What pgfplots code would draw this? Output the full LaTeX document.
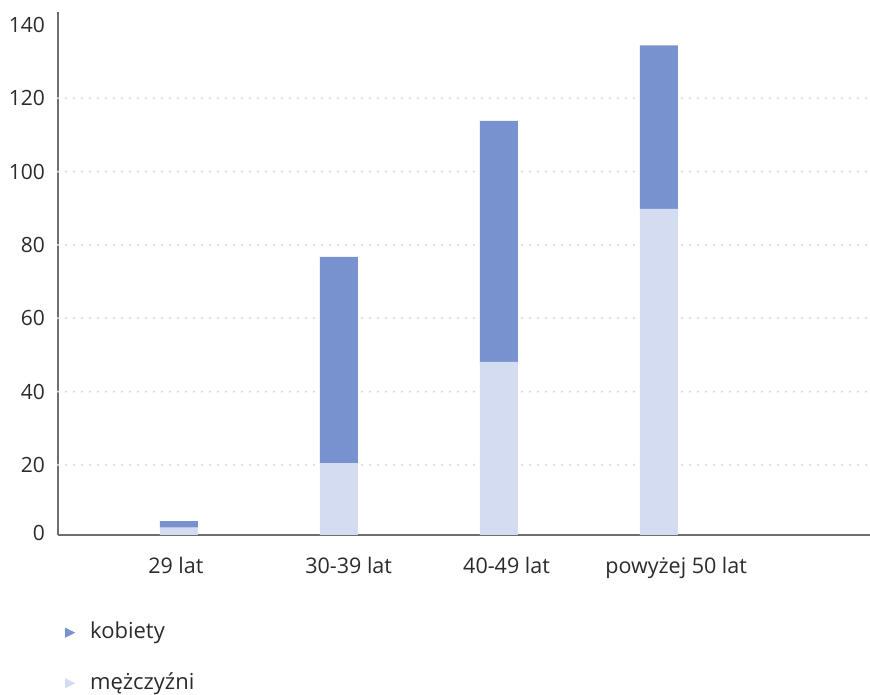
\documentclass[border=0pt]{standalone}
\usepackage{fontspec}
\setmainfont{Open Sans}
\usepackage{pgfplots}
\pgfplotsset{compat=1.18}
\definecolor{dark}{HTML}{7891CF}
\definecolor{light}{HTML}{D4DCF2}
\definecolor{txt}{HTML}{2B2B2B}
\definecolor{axl}{HTML}{6E6E6E}
\definecolor{grd}{HTML}{DCDCDC}
\begin{document}
\fontsize{21pt}{25pt}\selectfont
\begin{tikzpicture}
\begin{axis}[
 scale only axis, width=812pt, height=523pt,
 xmin=-0.756, xmax=4.32, ymin=0.9, ymax=143.5,
 ybar stacked, bar width=38pt,
 axis x line=bottom, axis y line=left,
 axis line style={-, axl, line width=2.2pt},
 xtick={-0.019,1.061,2.048,3.108}, xticklabels={29 lat,30-39 lat,40-49 lat,powyżej 50 lat},
 ytick={1.4,20,40,60,80,100,120,140},
 yticklabels={0,20,40,60,80,100,120,140},
 major tick length=0pt,
 tick label style={font=\fontsize{21pt}{25pt}\selectfont, text=txt},
 yticklabel style={xshift=-6pt},
 xticklabel style={yshift=-15pt, font=\fontsize{21.5pt}{25pt}\selectfont},
 extra y ticks={20,40,...,120}, extra y tick labels={},
 extra y tick style={grid=major, major grid style={grd, line width=2.5pt, dash pattern=on 0pt off 8pt, line cap=round}},
 reverse legend,
 legend cell align=left,
 legend style={at={(rel axis cs:0,0)}, anchor=north west, draw=none, fill=none,
   xshift=7pt, yshift=-88.5pt, font=\fontsize{22pt}{25pt}\selectfont, text=txt,
   row sep=30.5pt, inner sep=0pt,
   nodes={inner sep=0pt, text height=15pt, text depth=5pt},
   /tikz/every odd column/.append style={column sep=15pt}},
]
\addplot[fill=light, draw=none, legend image code/.code={\fill[light] (0pt,-4pt) -- (10pt,1pt) -- (0pt,6pt) -- cycle;}]
 coordinates {(0,2.9) (1,20.5) (2,48.1) (3,89.8)};
\addlegendentry{mężczyźni}
\addplot[fill=dark, draw=none, legend image code/.code={\fill[dark] (0pt,-4pt) -- (10pt,1pt) -- (0pt,6pt) -- cycle;}]
 coordinates {(0,1.8) (1,56.2) (2,65.7) (3,44.6)};
\addlegendentry{kobiety}
\coordinate (bl) at (rel axis cs:0,0);
\end{axis}
\pgfresetboundingbox
\path[use as bounding box] ([shift={(-58pt,-160pt)}]bl) rectangle ([shift={(812pt,535pt)}]bl);
\end{tikzpicture}
\end{document}
